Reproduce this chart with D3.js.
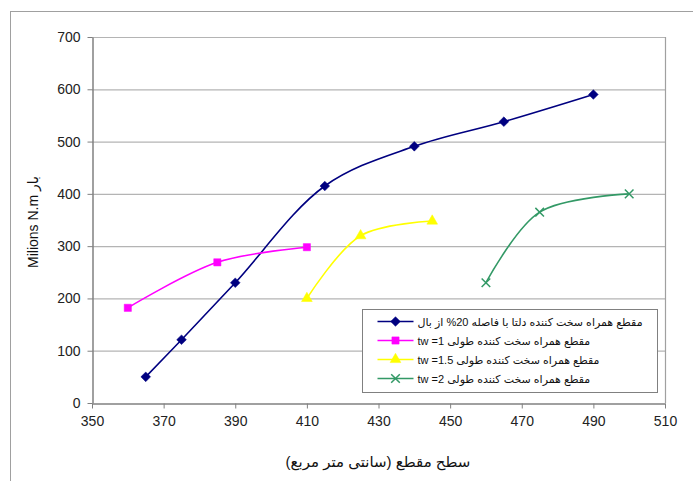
<!DOCTYPE html>
<html>
<head>
<meta charset="utf-8">
<script src="https://cdn.jsdelivr.net/npm/d3@7"></script>
<style>
  body { margin: 0; background: #fff; }
  svg { font-family: "Liberation Sans", Arial, "DejaVu Sans", sans-serif; }
</style>
</head>
<body>
<svg id="chart" width="693" height="481"></svg>
<script>
// data
const deltaX = [365, 375, 390, 415, 440, 465, 490];
const deltaY = [50, 121, 230, 415, 491, 538, 590];
const tw1X = [360, 385, 410];
const tw1Y = [182, 269, 298];
const tw15X = [410, 425, 445];
const tw15Y = [200, 320, 348];
const tw2X = [460, 475, 500];
const tw2Y = [230, 365, 400];

const seriesNames = [
  'مقطع همراه سخت کننده دلتا با فاصله 20% از بال',
  'مقطع همراه سخت کننده طولی tw =1',
  'مقطع همراه سخت کننده طولی tw =1.5',
  'مقطع همراه سخت کننده طولی tw =2'
];
const xTicks = [350, 370, 390, 410, 430, 450, 470, 490, 510];
const yTicks = [0, 100, 200, 300, 400, 500, 600, 700];
const xTitle = 'سطح مقطع (سانتی متر مربع)';
const yTitle = 'Milions N.m بار';

const series = [
  {name: seriesNames[0], xs: deltaX, ys: deltaY, color: '#000080', symbol: d3.symbolDiamond2, size: 60, kind: 'fill'},
  {name: seriesNames[1], xs: tw1X, ys: tw1Y, color: '#ff00ff', symbol: d3.symbolSquare, size: 52, kind: 'fill'},
  {name: seriesNames[2], xs: tw15X, ys: tw15Y, color: '#ffff00', symbol: d3.symbolTriangle, size: 50, kind: 'fill'},
  {name: seriesNames[3], xs: tw2X, ys: tw2Y, color: '#339966', symbol: d3.symbolX, size: 50, kind: 'stroke'}
];

const plot = {left: 92, right: 665, top: 37, bottom: 403};

const svg = d3.select('#chart');

// outer chart frame (cut off on the right and bottom)
svg.append('rect')
    .attr('x', 10.5).attr('y', 11.5)
    .attr('width', 720).attr('height', 500)
    .style('fill', 'none')
    .style('stroke', '#a0a0a0');

const x = d3.scaleLinear().domain([350, 510]).range([plot.left, plot.right]);
const y = d3.scaleLinear().domain([0, 700]).range([plot.bottom, plot.top]);

// gridlines
svg.append('g')
  .selectAll('line')
  .data(yTicks.slice(1))
  .enter().append('line')
    .attr('x1', plot.left).attr('x2', plot.right)
    .attr('y1', d => y(d) + 0.5).attr('y2', d => y(d) + 0.5)
    .style('stroke', '#b4b4b4')
    .style('stroke-width', 1.2);

// right border of plot area
svg.append('line')
    .attr('x1', plot.right + 0.5).attr('x2', plot.right + 0.5)
    .attr('y1', plot.top).attr('y2', plot.bottom)
    .style('stroke', '#a0a0a0')
    .style('stroke-width', 1.2);

const xAxis = svg.append('g')
    .attr('transform', `translate(0,${plot.bottom + 0.5})`)
    .call(d3.axisBottom(x).tickValues(xTicks).tickSize(5).tickSizeOuter(0).tickPadding(8));
const yAxis = svg.append('g')
    .attr('transform', `translate(${plot.left + 0.5},0)`)
    .call(d3.axisLeft(y).tickValues(yTicks).tickSize(5).tickSizeOuter(0).tickPadding(7));

[xAxis, yAxis].forEach(a => {
  a.select('.domain').style('stroke', '#808080').style('stroke-width', 1.5);
  a.selectAll('.tick line').style('stroke', '#808080');
  a.selectAll('.tick text')
      .style('font-size', '14px')
      .style('fill', '#222')
      .style('font-family', '"Liberation Sans", Arial, sans-serif');
});

// series, Excel-like smoothing
const line = d3.line()
    .x(d => x(d[0]))
    .y(d => y(d[1]))
    .curve(d3.curveCatmullRom.alpha(0.5));

function drawMarker(sel, s) {
  sel.attr('d', d3.symbol().type(s.symbol).size(s.size)())
    .style('fill', s.kind === 'fill' ? s.color : 'none')
    .style('stroke', s.color)
    .style('stroke-width', s.kind === 'fill' ? 0.5 : 1.5);
}

series.forEach(s => {
  const pts = s.xs.map((v, i) => [v, s.ys[i]]);
  const g = svg.append('g').attr('class', 'series');
  g.append('path')
      .datum(pts)
      .attr('d', line)
      .style('fill', 'none')
      .style('stroke', s.color)
      .style('stroke-width', 1.6);
  g.selectAll('.pt')
    .data(pts)
    .enter().append('path')
      .attr('class', 'pt')
      .attr('transform', d => `translate(${x(d[0])},${y(d[1])})`)
      .each(function () { d3.select(this).call(drawMarker, s); });
});

// legend
const legend = svg.append('g').attr('transform', 'translate(362.5,309.5)');
legend.append('rect')
    .attr('width', 295).attr('height', 83)
    .style('fill', '#fff')
    .style('stroke', '#808080');
const rows = legend.selectAll('.row')
  .data(series)
  .enter().append('g')
    .attr('class', 'row')
    .attr('transform', (d, i) => `translate(0,${12 + i * 19})`);
rows.append('line')
    .attr('x1', 15).attr('x2', 51)
    .style('stroke', d => d.color)
    .style('stroke-width', 1.6);
rows.append('path')
    .attr('transform', 'translate(33,0)')
    .each(function (d) { d3.select(this).call(drawMarker, d); });
rows.append('text')
    .attr('x', 55)
    .attr('y', 4)
    .attr('direction', 'rtl')
    .attr('text-anchor', 'end')
    .style('font-size', '11px')
    .style('fill', '#111')
    .text(d => d.name);

// axis titles
svg.append('text')
    .attr('x', 378).attr('y', 467)
    .attr('text-anchor', 'middle')
    .attr('direction', 'rtl')
    .style('font-size', '15px')
    .style('fill', '#111')
    .text(xTitle);
svg.append('text')
    .attr('transform', 'translate(38,222) rotate(-90)')
    .attr('text-anchor', 'middle')
    .style('font-size', '14px')
    .style('fill', '#111')
    .text(yTitle);
</script>
</body>
</html>
